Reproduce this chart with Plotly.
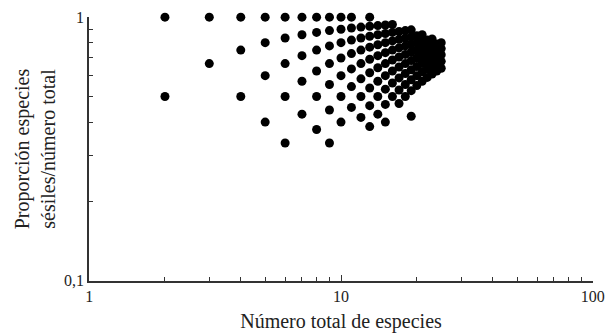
import plotly.graph_objects as go

# Data: total number of species (n) and number of sessile species (k)
total_species = (
    [2]*2 + [3]*2 + [4]*3 + [5]*4 + [6]*5 + [7]*5 + [8]*6 + [9]*7 + [10]*7 +
    [11]*7 + [12]*7 + [13]*9 + [14]*8 + [15]*9 + [16]*8 + [17]*8 + [18]*8 +
    [19]*9 + [20]*7 + [21]*7 + [22]*6 + [23]*6 + [24]*5 + [25]*5
)
sessile_species = (
    [1, 2] +
    [2, 3] +
    [2, 3, 4] +
    [2, 3, 4, 5] +
    [2, 3, 4, 5, 6] +
    [3, 4, 5, 6, 7] +
    [3, 4, 5, 6, 7, 8] +
    [3, 4, 5, 6, 7, 8, 9] +
    [4, 5, 6, 7, 8, 9, 10] +
    [5, 6, 7, 8, 9, 10, 11] +
    [5, 6, 7, 8, 9, 10, 11] +
    [5, 6, 7, 8, 9, 10, 11, 12, 13] +
    [6, 7, 8, 9, 10, 11, 12, 13] +
    [6, 7, 8, 9, 10, 11, 12, 13, 14] +
    [8, 9, 10, 11, 12, 13, 14, 15] +
    [8, 9, 10, 11, 12, 13, 14, 15] +
    [9, 10, 11, 12, 13, 14, 15, 16] +
    [8, 10, 11, 12, 13, 14, 15, 16, 17] +
    [11, 12, 13, 14, 15, 16, 17] +
    [12, 13, 14, 15, 16, 17, 18] +
    [13, 14, 15, 16, 17, 18] +
    [14, 15, 16, 17, 18, 19] +
    [15, 16, 17, 18, 19] +
    [16, 17, 18, 19, 20]
)
proportion = [k / n for k, n in zip(sessile_species, total_species)]

x_major = [1, 10, 100]
x_major_text = ["1", "10", "100"]
x_minor = [2, 3, 4, 5, 6, 7, 8, 9, 20, 30, 40, 50, 60, 70, 80, 90]
y_major = [0.1, 1]
y_major_text = ["0,1", "1"]
y_minor = [0.2, 0.3, 0.4, 0.5, 0.6, 0.7, 0.8, 0.9]

FONT = "Liberation Serif, Times New Roman, serif"
AX = "#333333"

fig = go.Figure(
    go.Scatter(
        x=total_species, y=proportion, mode="markers",
        marker=dict(color="black", size=9, line=dict(width=0)),
        cliponaxis=False, hoverinfo="x+y",
    )
)

fig.update_layout(
    width=607, height=335,
    margin=dict(l=89, r=14, t=17, b=54),
    paper_bgcolor="white", plot_bgcolor="white",
    showlegend=False,
    font=dict(family=FONT, color="#222222", size=16),
)
fig.update_xaxes(
    type="log", range=[-0.0005, 2.0005], automargin=False,
    tickmode="array", tickvals=x_major, ticktext=x_major_text,
    ticklabeloverflow="allow",
    ticks="inside", ticklen=6, tickwidth=1.2, tickcolor=AX,
    minor=dict(tickmode="array", tickvals=x_minor, ticks="inside",
               ticklen=4, tickwidth=1, tickcolor=AX),
    showline=True, linecolor=AX, linewidth=1.5,
    showgrid=False, zeroline=False,
    tickfont=dict(family=FONT, size=16),
    title=dict(text="Número total de especies", standoff=10,
               font=dict(family=FONT, size=20)),
)
fig.update_yaxes(
    type="log", range=[-1.0005, 0.0005], automargin=False,
    tickmode="array", tickvals=y_major, ticktext=y_major_text,
    ticklabeloverflow="allow",
    ticks="inside", ticklen=6, tickwidth=1.2, tickcolor=AX,
    minor=dict(tickmode="array", tickvals=y_minor, ticks="inside",
               ticklen=4, tickwidth=1, tickcolor=AX),
    showline=True, linecolor=AX, linewidth=1.5,
    showgrid=False, zeroline=False,
    tickfont=dict(family=FONT, size=16),
    title=dict(text="Proporción especies<br>sésiles/número total", standoff=3,
               font=dict(family=FONT, size=20)),
)

fig.write_html("out.html")
